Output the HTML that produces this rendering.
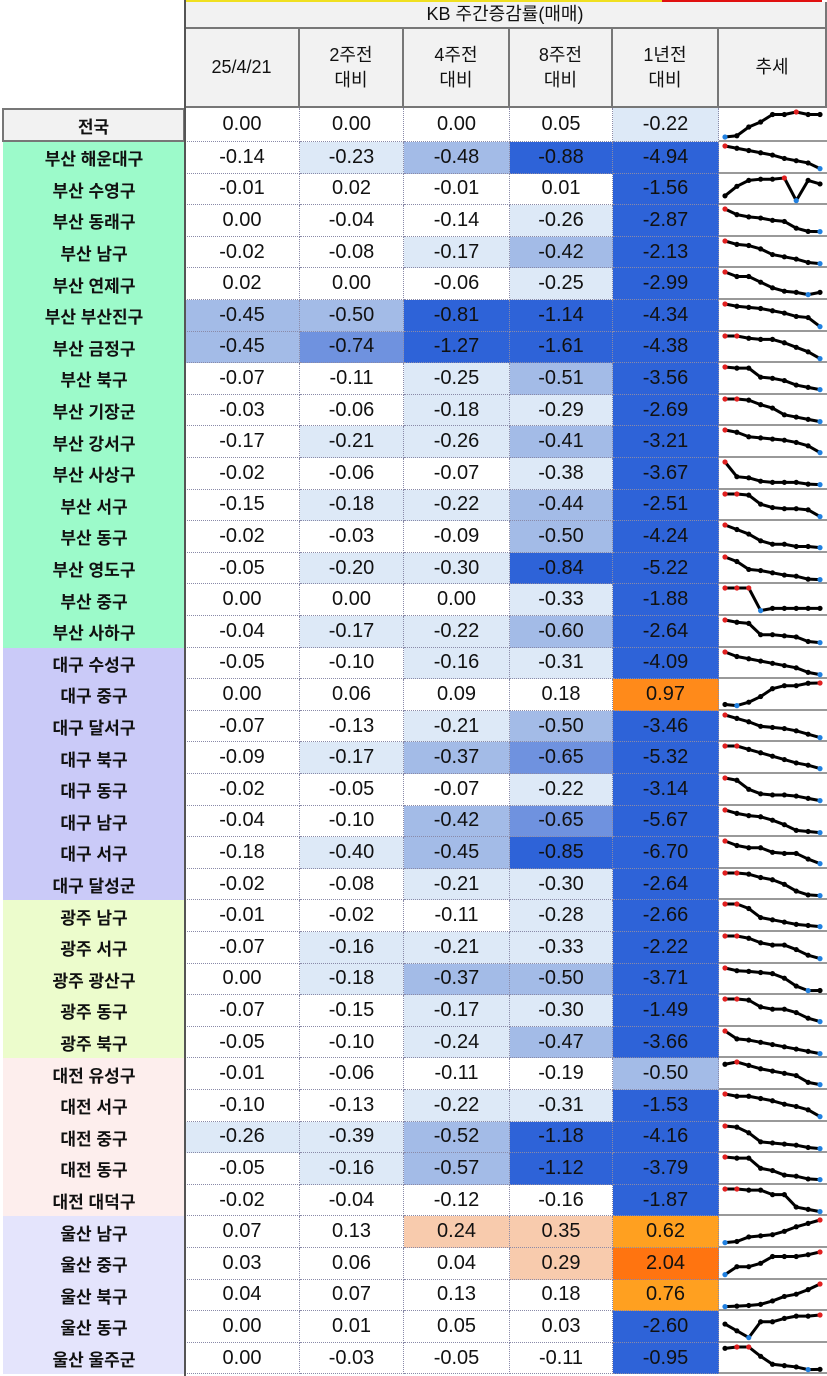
<!DOCTYPE html>
<html><head><meta charset="utf-8">
<style>
body{margin:0;width:827px;height:1376px;background:#fff;position:relative;overflow:hidden;font-family:"Liberation Sans","Noto Sans CJK KR",sans-serif;}
.c{position:absolute;box-sizing:border-box;display:flex;align-items:center;justify-content:center;color:#111;}
.hd{background:#f2f2f2;font-size:18px;text-align:center;line-height:25px;border-right:2px solid #777;border-bottom:2px solid #777;}
.v{font-size:20px;border-right:1px dotted #8a8aa8;border-bottom:1px dotted #8a8aa8;}
.lb{font-size:17px;font-weight:bold;}
svg{position:absolute;}
</style></head><body>
<div style="position:absolute;left:185px;top:0;width:477px;height:2px;background:#f0e020"></div>
<div style="position:absolute;left:662px;top:0;width:160px;height:2px;background:#e01010"></div>
<div class="c hd" style="left:185px;top:2px;width:642px;height:27px;">KB 주간증감률(매매)</div>
<div id="root"></div>
<script>
const colHeaders=["25/4/21","2주전<br>대비","4주전<br>대비","8주전<br>대비","1년전<br>대비","추세"];
const regions=["전국","부산 해운대구","부산 수영구","부산 동래구","부산 남구","부산 연제구","부산 부산진구","부산 금정구","부산 북구","부산 기장군","부산 강서구","부산 사상구","부산 서구","부산 동구","부산 영도구","부산 중구","부산 사하구","대구 수성구","대구 중구","대구 달서구","대구 북구","대구 동구","대구 남구","대구 서구","대구 달성군","광주 남구","광주 서구","광주 광산구","광주 동구","광주 북구","대전 유성구","대전 서구","대전 중구","대전 동구","대전 대덕구","울산 남구","울산 중구","울산 북구","울산 동구","울산 울주군"];
const wk1=[0.00,-0.14,-0.01,0.00,-0.02,0.02,-0.45,-0.45,-0.07,-0.03,-0.17,-0.02,-0.15,-0.02,-0.05,0.00,-0.04,-0.05,0.00,-0.07,-0.09,-0.02,-0.04,-0.18,-0.02,-0.01,-0.07,0.00,-0.07,-0.05,-0.01,-0.10,-0.26,-0.05,-0.02,0.07,0.03,0.04,0.00,0.00];
const wk2=[0.00,-0.23,0.02,-0.04,-0.08,0.00,-0.50,-0.74,-0.11,-0.06,-0.21,-0.06,-0.18,-0.03,-0.20,0.00,-0.17,-0.10,0.06,-0.13,-0.17,-0.05,-0.10,-0.40,-0.08,-0.02,-0.16,-0.18,-0.15,-0.10,-0.06,-0.13,-0.39,-0.16,-0.04,0.13,0.06,0.07,0.01,-0.03];
const wk4=[0.00,-0.48,-0.01,-0.14,-0.17,-0.06,-0.81,-1.27,-0.25,-0.18,-0.26,-0.07,-0.22,-0.09,-0.30,0.00,-0.22,-0.16,0.09,-0.21,-0.37,-0.07,-0.42,-0.45,-0.21,-0.11,-0.21,-0.37,-0.17,-0.24,-0.11,-0.22,-0.52,-0.57,-0.12,0.24,0.04,0.13,0.05,-0.05];
const wk8=[0.05,-0.88,0.01,-0.26,-0.42,-0.25,-1.14,-1.61,-0.51,-0.29,-0.41,-0.38,-0.44,-0.50,-0.84,-0.33,-0.60,-0.31,0.18,-0.50,-0.65,-0.22,-0.65,-0.85,-0.30,-0.28,-0.33,-0.50,-0.30,-0.47,-0.19,-0.31,-1.18,-1.12,-0.16,0.35,0.29,0.18,0.03,-0.11];
const yr1=[-0.22,-4.94,-1.56,-2.87,-2.13,-2.99,-4.34,-4.38,-3.56,-2.69,-3.21,-3.67,-2.51,-4.24,-5.22,-1.88,-2.64,-4.09,0.97,-3.46,-5.32,-3.14,-5.67,-6.70,-2.64,-2.66,-2.22,-3.71,-1.49,-3.66,-0.50,-1.53,-4.16,-3.79,-1.87,0.62,2.04,0.76,-2.60,-0.95];
const trends=[
[0,0.5,4,6,9,9,10,9,9],[10,9,8,7,6,4.5,3.5,2.5,0],[2,6,8.5,9,9,9.5,0,8.5,7],[10,7.5,6.5,6,5,4.5,1.5,0.1,0],[10,8.5,8,6.5,4,3,2,0.5,0],
[10,8,8,5.5,3,1.5,1,0,1],[10,9,8.5,8,7,6,4.5,4,0],[10,10,9,8.5,8.5,7,5,3,0],[10,9.5,9.5,5.5,5,4,2,1,0],[10,10,9.5,7.5,6,3,2,1,0],
[10,9,7,6.5,6,5.5,4.5,3,0],[10,3.5,3,1.5,1,1,1,0.2,0],[10,10,9.5,5.5,4,3.5,3.5,3,0],[10,8,6,3,1.5,1.5,0.5,0.5,0],[10,8,4.5,4,3,2,1.5,0.2,0],
[10,10,10,0,1,1,1,1,1],[10,9,8.5,3.5,3.5,3,2.5,0.5,0],[10,8,7,6,5,4,3,1,0],[0.5,0,1.5,4,7.5,8.8,8.8,9.9,10],[10,8.5,7,5,4.5,4,3,1.5,0],
[10,10,8.5,7,5.5,4,2.5,1.5,0],[10,9,5,3,2.5,2.5,2,1,0],[10,8.5,7.5,7,5.5,3.5,1,0.5,0],[10,8,7,7,5,4.5,4.5,2,0],[10,10,9.5,8,7,5,2,0.3,0],
[10,10,8,4,3,2,1,0.5,0],[10,10,9,7,6,6,4,1.5,0],[10,8.8,8.5,8,7.5,5.5,2,0,0.05],[10,10,9.5,6.5,5.5,5.5,4,1.5,0],[10,6.5,6,5,4,3,2,1,0],
[9,10,8.5,7,6,5,4,1,0],[10,9,9,8,7,5.5,4.5,3,0],[10,9.5,7,3,2.5,2,1.5,0.5,0],[10,9.5,9.5,5,4,2,1.5,0.3,0],[10,10,9.5,9.5,7.5,7.5,2,1,0],
[0,0.5,2.5,3,3.5,5,7,8.5,10],[0,3.5,3.5,5,8,8,8,8.8,10],[0,0.2,0.5,1,2.5,4.5,5.5,7.5,10],[6,3,0,7,7,8.5,9.5,9.5,10],[8,8.5,8.5,5,2,1.5,1,0,0.1]];
const cols=[wk1,wk2,wk4,wk8,yr1];
const colX=[185,300,404,510,613,719,827];
const lightT=[-0.2,-0.155,-0.155,-0.2,-0.1];
const midT=[-0.45,-0.45,-0.35,-0.40,-0.45];
function regionBg(i){
 if(i===0)return"#f2f2f2";
 if(i<=16)return"#9cfaca";
 if(i<=24)return"#cacaf8";
 if(i<=29)return"#ecfccc";
 if(i<=34)return"#fdeeed";
 return"#e4e4fc";
}
function cellBg(v,c){
 if(v>=1.5)return"#ff7410";
 if(v>=0.9)return"#ff8a1a";
 if(v>=0.55)return"#ffa020";
 if(v>=0.2)return"#f8cbad";
 if(c===4){ if(v<=-0.9)return"#2e63d8"; if(v<=-0.45)return"#a3bbe7"; if(v<=-0.1)return"#dde9f7"; return"#fff";}
 if(v<=-0.78)return"#2e63d8";
 if(v<=-0.62)return"#6f92df";
 if(v<=midT[c])return"#a3bbe7";
 if(v<=lightT[c])return"#dde9f7";
 return"#fff";
}
function rowTop(i){return i===0?108:142+(i-1)*31.6;}
function rowH(i){return i===0?34:31.6;}
const root=document.getElementById('root');
colHeaders.forEach((h,j)=>{
 const d=document.createElement('div');
 d.className='c hd';
 
 
 d.style.cssText=`left:${colX[j]}px;top:29px;width:${colX[j+1]-colX[j]}px;height:79px;`;
 d.innerHTML=h;root.appendChild(d);
});
const lb=document.createElement('div');


lb.style.cssText='position:absolute;left:184px;top:0;width:2px;height:1376px;background:#555;';
const NS='http://www.w3.org/2000/svg';
regions.forEach((r,i)=>{
 const t=rowTop(i),h=rowH(i);
 const L=document.createElement('div');
 L.className='c lb';
 
 
 L.style.cssText=`left:${i===0?2:3}px;top:${t}px;width:${i===0?183:182}px;height:${h}px;background:${regionBg(i)};`+(i===0?'border:2px solid #777;':'');
 L.textContent=r;root.appendChild(L);
 cols.forEach((arr,c)=>{
  const d=document.createElement('div');
  d.className='c v';
  
  
  d.style.cssText=`left:${colX[c]}px;top:${t}px;width:${colX[c+1]-colX[c]}px;height:${h}px;background:${cellBg(arr[i],c)};`;
  d.textContent=arr[i].toFixed(2);root.appendChild(d);
 });
 const box=document.createElement('div');
 
 
 box.style.cssText=`position:absolute;left:719px;top:${t}px;width:108px;height:${h}px;border-bottom:2px solid #999;box-sizing:border-box;`;
 root.appendChild(box);
 const s=document.createElementNS(NS,'svg');
 
 
 s.setAttribute('width','108');s.setAttribute('height',String(h));
 s.style.left='0';s.style.top='0';
 const vals=trends[i];
 const mx=Math.max(...vals),mn=Math.min(...vals);
 const xs=k=>6+k*(95/(vals.length-1));
 const ys=v=>(h-5)-(v-mn)/((mx-mn)||1)*(h-9);
 const pts=vals.map((v,k)=>xs(k)+','+ys(v)).join(' ');
 const pl=document.createElementNS(NS,'polyline');
 
 
 pl.setAttribute('points',pts);pl.setAttribute('fill','none');pl.setAttribute('stroke','#000');pl.setAttribute('stroke-width','3');pl.setAttribute('stroke-linejoin','round');
 s.appendChild(pl);
 vals.forEach((v,k)=>{
  const ci=document.createElementNS(NS,'circle');
  
  
  ci.setAttribute('cx',xs(k));ci.setAttribute('cy',ys(v));ci.setAttribute('r','2.6');
  ci.setAttribute('fill',v===mx?'#e02020':(v===mn?'#2080e0':'#000'));
  s.appendChild(ci);
 });
 box.appendChild(s);
});
root.appendChild(lb);
</script>
</body></html>
